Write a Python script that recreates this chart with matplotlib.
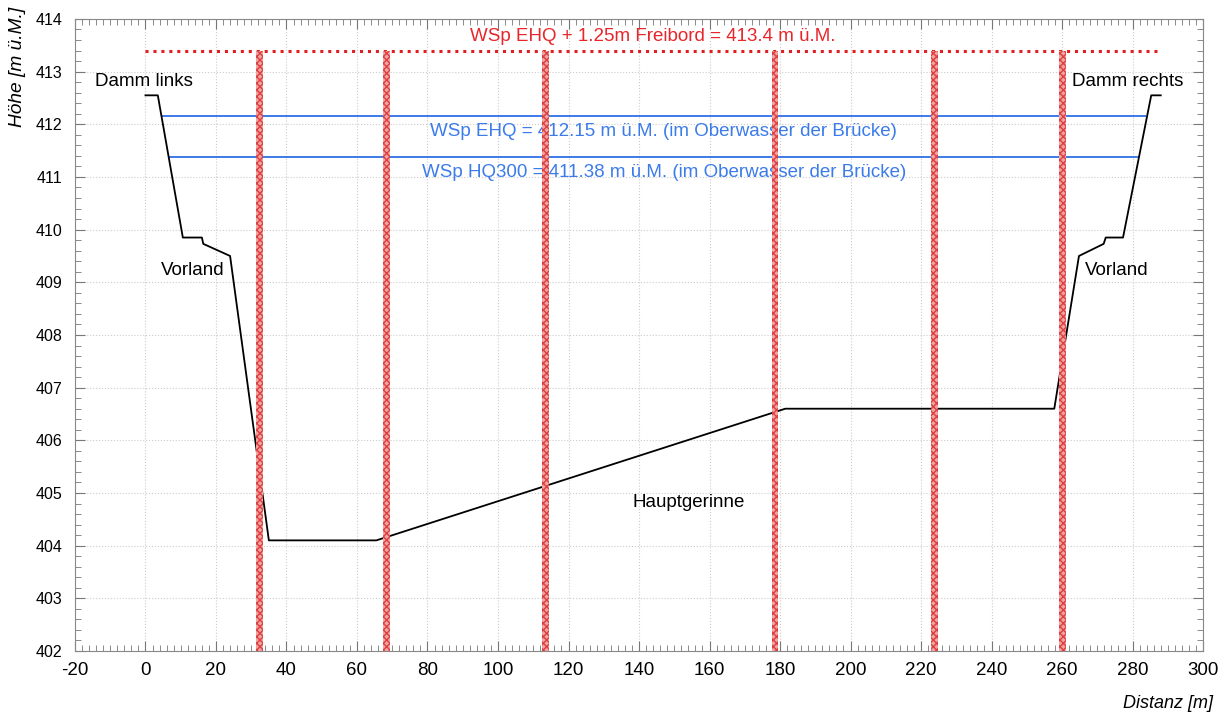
import matplotlib
matplotlib.use('Agg')
import matplotlib.pyplot as plt
from matplotlib.ticker import MultipleLocator

plt.rcParams['font.family'] = ['Liberation Sans', 'DejaVu Sans']
plt.rcParams['axes.unicode_minus'] = False

# terrain profile (distance m, height m ü.M.)
profil_x = [0, 3.5, 10.6, 16.0, 16.4, 24.0, 35.0, 65.5, 181.5, 257.8, 264.8, 271.8, 272.4, 277.3, 285.3, 288.0]
profil_z = [412.55, 412.55, 409.85, 409.85, 409.73, 409.5, 404.1, 404.1, 406.6, 406.6, 409.5, 409.73, 409.85, 409.85, 412.55, 412.55]

# water levels
wsp_ehq = 412.15
wsp_ehq_x = [4.6, 283.8]
wsp_hq300 = 411.38
wsp_hq300_x = [6.8, 281.8]
freibord = 413.4
freibord_x = [0, 288]

# bridge piers
pfeiler_x = [32.3, 68.4, 113.5, 178.6, 223.9, 260.1]

fig = plt.figure(figsize=(12.21, 7.13), dpi=100)
ax = fig.add_axes([0.0614, 0.087, 0.9239, 0.8864])

ax.plot(profil_x, profil_z, color='black', lw=1.3, zorder=3)

ax.hlines(wsp_ehq, *wsp_ehq_x, color='#2f6fe8', lw=1.3, zorder=2)
ax.hlines(wsp_hq300, *wsp_hq300_x, color='#2f6fe8', lw=1.3, zorder=2)
ax.hlines(freibord, *freibord_x, color='#e02020', lw=2.2, linestyles=(0, (1, 1.6)), zorder=2)

for px in pfeiler_x:
    ax.bar(px, freibord - 402, bottom=402, width=1.9, facecolor='#f2a4a4',
           edgecolor='#dc4040', hatch='xxxxx', linewidth=0, zorder=4)

fs = 13.5
ax.text(144, 413.66, 'WSp EHQ + 1.25m Freibord = 413.4 m ü.M.', color='#e8252a',
        fontsize=fs, ha='center', va='center')
ax.text(147, 411.86, 'WSp EHQ = 412.15 m ü.M. (im Oberwasser der Brücke)', color='#3b7bea',
        fontsize=fs, ha='center', va='center')
ax.text(147, 411.08, 'WSp HQ300 = 411.38 m ü.M. (im Oberwasser der Brücke)', color='#3b7bea',
        fontsize=fs, ha='center', va='center')
ax.text(-0.5, 412.82, 'Damm links', fontsize=fs, ha='center', va='center')
ax.text(278.6, 412.82, 'Damm rechts', fontsize=fs, ha='center', va='center')
ax.text(13.5, 409.22, 'Vorland', fontsize=fs, ha='center', va='center')
ax.text(275.5, 409.22, 'Vorland', fontsize=fs, ha='center', va='center')
ax.text(154, 404.82, 'Hauptgerinne', fontsize=fs, ha='center', va='center')

ax.set_xlim(-20, 300)
ax.set_ylim(402, 414)
ax.xaxis.set_major_locator(MultipleLocator(20))
ax.xaxis.set_minor_locator(MultipleLocator(2))
ax.yaxis.set_major_locator(MultipleLocator(1))
ax.yaxis.set_minor_locator(MultipleLocator(0.2))
ax.tick_params(which='both', direction='in', top=True, right=True, color='#777777')
ax.tick_params(which='major', length=7)
ax.tick_params(which='minor', length=4)
ax.tick_params(axis='x', which='major', labelsize=13.5, pad=8)
ax.tick_params(axis='y', which='major', labelsize=11.5, pad=9)
ax.grid(which='major', color='#cccccc', linestyle=':', lw=0.8)
for s in ax.spines.values():
    s.set_color('#888888')

fig.text(1213 / 1221, 1 - 704 / 713, 'Distanz [m]', fontsize=13, style='italic',
         ha='right', va='center')
fig.text(18 / 1221, 1 - 7 / 713, 'Höhe [m ü.M.]', fontsize=13.8, style='italic',
         ha='center', va='top', rotation=90)

fig.savefig('out.png', dpi=100)
